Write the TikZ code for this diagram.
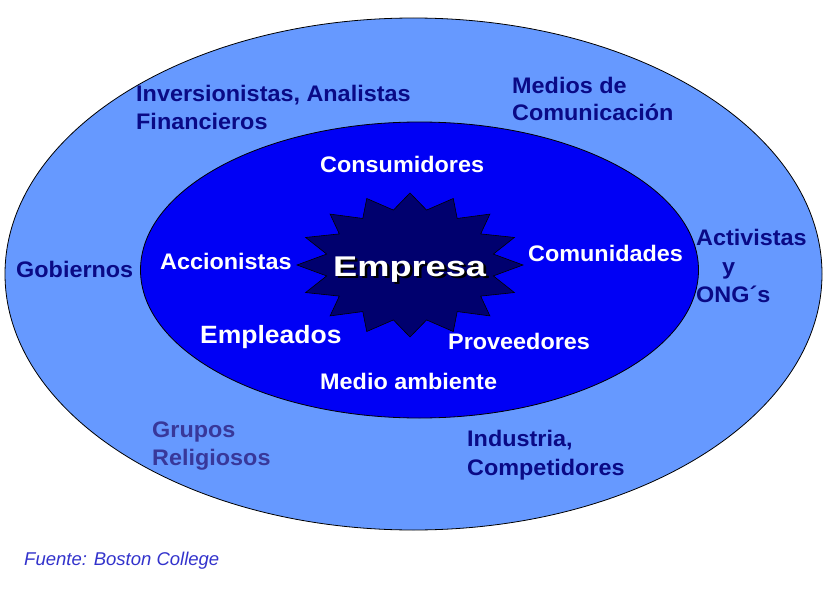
\documentclass[tikz,border=0pt]{standalone}
\usepackage{fontspec}
\setmainfont{Liberation Sans}
\definecolor{outerfill}{HTML}{6699FF}
\definecolor{innerfill}{HTML}{0000F5}
\definecolor{starfill}{HTML}{00006E}
\definecolor{navytxt}{HTML}{0A0A86}
\definecolor{greytxt}{HTML}{38389A}
\definecolor{srctxt}{HTML}{3333CC}
\tikzset{
  ring/.style={draw=black, line width=0.8pt},
  outlbl/.style={font=\bfseries\fontsize{22.5}{26}\selectfont, text=navytxt, anchor=base west, inner sep=0pt},
  inlbl/.style={font=\bfseries\fontsize{22.5}{26}\selectfont, text=white, anchor=base west, inner sep=0pt},
}
\newcommand{\widetxt}[1]{\scalebox{1.04}[1]{#1}}
\begin{document}
\begin{tikzpicture}[x=1pt,y=-1pt]
\useasboundingbox (0,0) rectangle (830,610);
\fill[white] (0,0) rectangle (830,610);
% rings
\draw[ring, fill=outerfill] (413.5,274) ellipse [x radius=408.5pt, y radius=256pt];
\draw[ring, fill=innerfill] (419.5,270) ellipse [x radius=279pt, y radius=148pt];
% star
\draw[ring, line width=0.6pt, fill=starfill] (523,265)
  \foreach \a in {0,22.5,...,337.5} { -- ({410+113*cos(\a)},{265+72*sin(\a)}) -- ({410+85*cos(\a+11.25)},{265+56*sin(\a+11.25)}) } -- cycle;
% outer labels
\node[outlbl] (inv1) at (136,101) {\widetxt{Inversionistas, Analistas}};
\node[outlbl] (inv2) at (136,129) {\widetxt{Financieros}};
\node[outlbl] (med1) at (512,93) {\widetxt{Medios de}};
\node[outlbl] (med2) at (512,121) {\widetxt{Comunicación}};
\node[outlbl] (act1) at (696,245) {\widetxt{Activistas}};
\node[outlbl] (act2) at (722,274) {\widetxt{y}};
\node[outlbl] (act3) at (696,302) {\widetxt{ONG´s}};
\node[outlbl] (gob) at (16,277) {\widetxt{Gobiernos}};
\node[outlbl, text=greytxt] (gru1) at (152,437) {\widetxt{Grupos}};
\node[outlbl, text=greytxt] (gru2) at (152,465) {\widetxt{Religiosos}};
\node[outlbl] (ind1) at (467,446) {\widetxt{Industria,}};
\node[outlbl] (ind2) at (467,475) {\widetxt{Competidores}};
% inner labels
\node[inlbl] (cons) at (320,172) {\widetxt{Consumidores}};
\node[inlbl] (acc) at (160,269) {\widetxt{Accionistas}};
\node[inlbl] (com) at (528,261) {\widetxt{Comunidades}};
\node[inlbl, font=\bfseries\fontsize{25}{28}\selectfont] (emp) at (200,343) {\scalebox{1.06}[1]{Empleados}};
\node[inlbl] (prov) at (448,349) {\widetxt{Proveedores}};
\node[inlbl] (mamb) at (320,389) {\widetxt{Medio ambiente}};
% center
\node[inlbl, font=\bfseries\fontsize{28.5}{30}\selectfont] (empresa) at (333,276) {\scalebox{1.27}[1]{\makebox[0pt][l]{\hspace{2pt}\raisebox{-2pt}{\color{black}Empresa}}Empresa}};
% source
\node[anchor=base west, inner sep=0pt, text=srctxt, font=\itshape\fontsize{18.5}{20}\selectfont] (src) at (24,565) {Fuente: Boston College};
\end{tikzpicture}
\end{document}
